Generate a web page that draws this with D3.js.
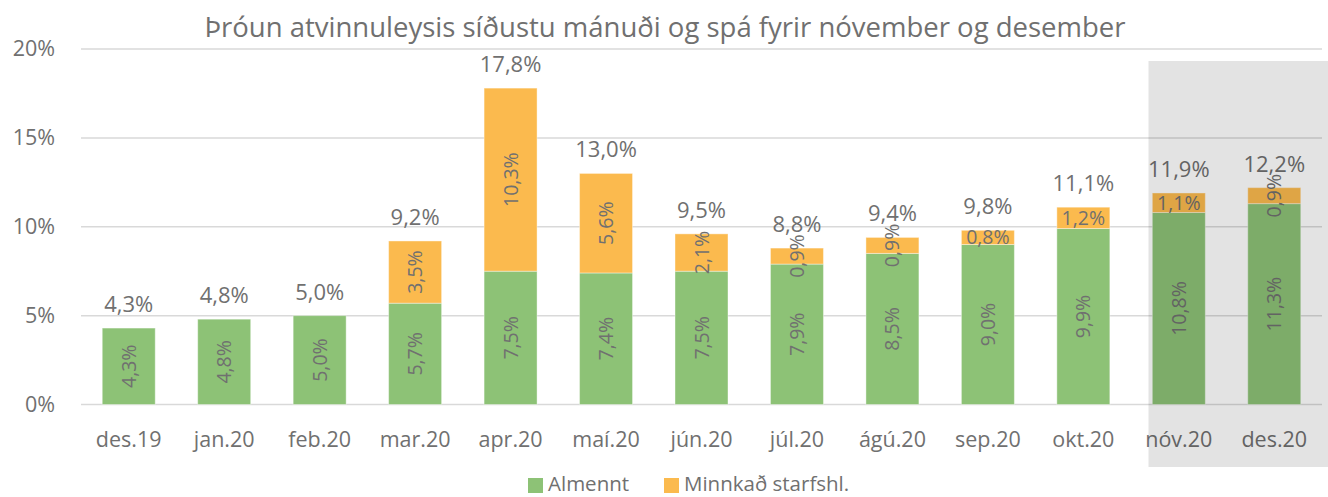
<!DOCTYPE html>
<html><head><meta charset="utf-8">
<script src="https://cdn.jsdelivr.net/npm/d3@7"></script>
<style>body{margin:0;background:#fff}svg{display:block}text{font-family:"Open Sans",sans-serif;fill:#707070}</style>
</head><body><svg id="c" width="1328" height="497"></svg>
<script>
const categories = ["des.19","jan.20","feb.20","mar.20","apr.20","maí.20","jún.20","júl.20","ágú.20","sep.20","okt.20","nóv.20","des.20"];
const almennt = [4.3,4.8,5.0,5.7,7.5,7.4,7.5,7.9,8.5,9.0,9.9,10.8,11.3];
const minnkad = [0,0,0,3.5,10.3,5.6,2.1,0.9,0.9,0.8,1.2,1.1,0.9];
const totals = [4.3,4.8,5.0,9.2,17.8,13.0,9.5,8.8,9.4,9.8,11.1,11.9,12.2];
const yTicks = [0,5,10,15,20];
const seriesNames = ["Almennt","Minnkað starfshl."];
const forecast = ["nóv.20","des.20"];
const title = "Þróun atvinnuleysis síðustu mánuði og spá fyrir nóvember og desember";
const colors = ["#8dc276","#fbba4e"];

const svg = d3.select("#c");
const x = d3.scaleBand().domain(categories).range([81,1322]).paddingInner(0.445).paddingOuter(0.2225);
const y = d3.scaleLinear().domain([0,20]).range([404.5,49]);
const fmt = v => v.toFixed(1).replace(".",",") + "%";

svg.append("text").attr("x",665).attr("y",37).attr("text-anchor","middle").attr("font-size",27.5).text(title);

// grid
svg.append("g").selectAll("line").data(yTicks).join("line")
  .attr("x1",81).attr("x2",1322).attr("y1",d=>y(d)).attr("y2",d=>y(d))
  .attr("stroke","#d9d9d9").attr("stroke-width",1.5);
svg.append("g").selectAll("text").data(yTicks).join("text")
  .attr("x",55).attr("y",d=>y(d)+7).attr("text-anchor","end").attr("font-size",21.5).text(d=>d+"%");

const stackData = categories.map((c,i)=>({cat:c, a:almennt[i], m:minnkad[i]}));
const stacked = d3.stack().keys(["a","m"])(stackData);

const g = svg.append("g");
stacked.forEach((s,si)=>{
  g.selectAll(null).data(s).join("rect")
    .attr("x",d=>x(d.data.cat)).attr("width",x.bandwidth())
    .attr("y",d=>y(d[1])).attr("height",d=>y(d[0])-y(d[1]))
    .attr("fill",colors[si]).attr("stroke","#ffffff").attr("stroke-opacity",0.4).attr("stroke-width",1);
});

// inner labels
stacked.forEach((s,si)=>{
  s.forEach(d=>{
    const v = d[1]-d[0];
    if (v <= 0) return;
    const cx = x(d.data.cat)+x.bandwidth()/2;
    const cy = (y(d[0])+y(d[1]))/2;
    const horiz = si===1 && (d.data.cat==="sep.20"||d.data.cat==="okt.20"||d.data.cat==="nóv.20");
    if (horiz) {
      g.append("text").attr("x",cx).attr("y",cy+7).attr("text-anchor","middle").attr("font-size",19.5).text(fmt(v));
    } else {
      g.append("text").attr("transform",`translate(${cx+7},${cy}) rotate(-90)`).attr("text-anchor","middle").attr("font-size",19.5).text(fmt(v));
    }
  });
});

// totals
g.selectAll(null).data(categories).join("text")
  .attr("x",d=>x(d)+x.bandwidth()/2)
  .attr("y",(d,i)=>y(almennt[i]+minnkad[i])-16)
  .attr("text-anchor","middle").attr("font-size",22).text((d,i)=>fmt(totals[i]));

// x labels
svg.append("g").selectAll("text").data(categories).join("text")
  .attr("x",d=>x(d)+x.bandwidth()/2).attr("y",447).attr("text-anchor","middle").attr("font-size",21.5).text(d=>d);

// forecast overlay
const fx = x(forecast[0]) - x.step()*0.04;
svg.append("rect").attr("x",fx).attr("y",61).attr("width",1328-fx).attr("height",406)
  .attr("fill","#000").attr("fill-opacity",0.11);

// legend
const leg = svg.append("g");
const lx = [528,664];
seriesNames.forEach((n,i)=>{
  leg.append("rect").attr("x",lx[i]).attr("y",478).attr("width",15).attr("height",15).attr("fill",colors[i]);
  leg.append("text").attr("x",lx[i]+20).attr("y",491).attr("font-size",20.5).text(n);
});
</script></body></html>
